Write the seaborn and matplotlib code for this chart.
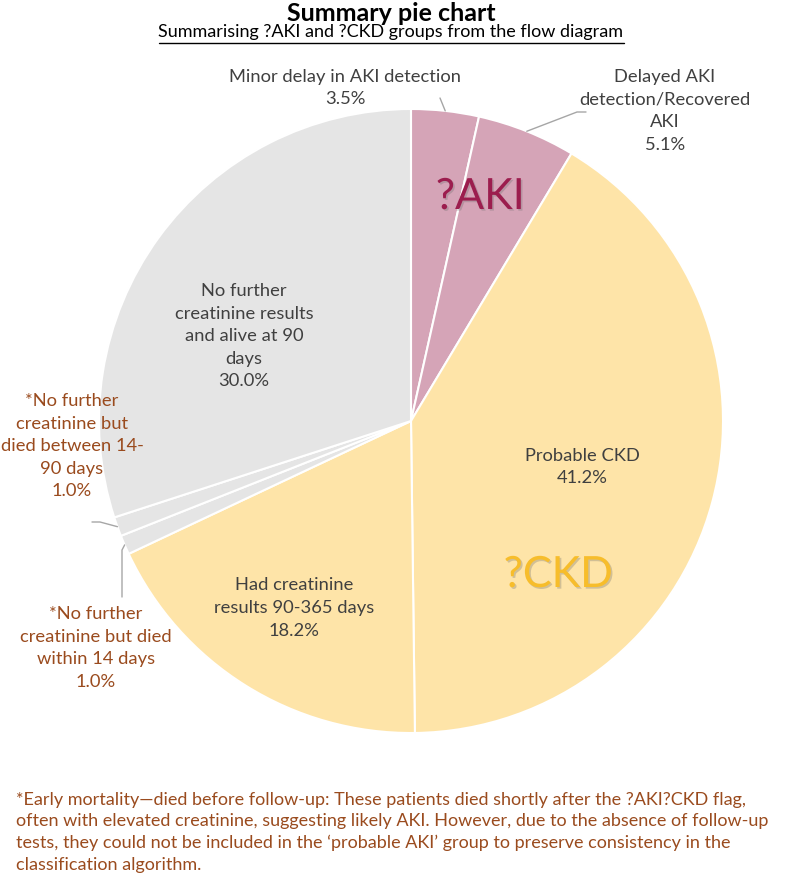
import numpy as np
import matplotlib
matplotlib.use("Agg")
import matplotlib.pyplot as plt
import matplotlib.patheffects as pe
import seaborn as sns

# Slice data (clockwise from 12 o'clock)
labels = [
    "Minor delay in AKI detection",
    "Delayed AKI\ndetection/Recovered\nAKI",
    "Probable CKD",
    "Had creatinine\nresults 90-365 days",
    "*No further\ncreatinine but died\nwithin 14 days",
    "*No further\ncreatinine but\ndied between 14-\n90 days",
    "No further\ncreatinine results\nand alive at 90\ndays",
]
percent = [3.5, 5.1, 41.2, 18.2, 1.0, 1.0, 30.0]
groups = ["AKI", "AKI", "CKD", "CKD", "other", "other", "other"]

title = "Summary pie chart"
subtitle = "Summarising ?AKI and ?CKD groups from the flow diagram"
footnote = ("*Early mortality\u2014died before follow-up: These patients died shortly after the ?AKI?CKD flag,\n"
            "often with elevated creatinine, suggesting likely AKI. However, due to the absence of follow-up\n"
            "tests, they could not be included in the \u2018probable AKI\u2019 group to preserve consistency in the\n"
            "classification algorithm.")

# Styling
sns.set_theme(style="white")
plt.rcParams["font.family"] = ["Lato", "DejaVu Sans"]

fill = {"AKI": "#D5A4B7", "CKD": "#FEE4A8", "other": "#E5E5E5"}
dark_text = "#404040"
brown = "#9A4B1E"
leader = "#A6A6A6"

W, H = 794, 886
CX, CY, R = 411, 421, 312


def px(x, y):
    # pixel coords (y down) -> data coords (y up)
    return x, H - y


fig = plt.figure(figsize=(W / 100, H / 100), dpi=100)
ax = fig.add_axes([0, 0, 1, 1])

wedges, _ = ax.pie(
    percent,
    colors=[fill[g] for g in groups],
    startangle=90,
    counterclock=False,
    center=px(CX, CY),
    radius=R,
    wedgeprops=dict(edgecolor="white", linewidth=1.5),
)
ax.set_xlim(0, W)
ax.set_ylim(0, H)
ax.set_aspect("equal")
ax.axis("off")

# label placement (pixel centre, colour)
label_pos = [
    (345, 88, dark_text),
    (665, 111, dark_text),
    (582, 467, dark_text),
    (294, 608, dark_text),
    (96, 648, brown),
    (72, 446, brown),
    (244, 336, dark_text),
]
for lab, p, (x, y, c) in zip(labels, percent, label_pos):
    ax.text(*px(x, y), f"{lab}\n{p:.1f}%", ha="center", va="center",
            fontsize=13.2, color=c, linespacing=1.5)


def edge_point(w):
    t = np.deg2rad((w.theta1 + w.theta2) / 2)
    return CX + R * np.cos(t), CY - R * np.sin(t)


# leader lines (pixel coords after the wedge edge)
leader_paths = {
    0: [(440, 98)],
    1: [(577, 112), (586, 112)],
    4: [(122, 550), (122, 597)],
    5: [(100, 522), (92, 522)],
}
for i, pts in leader_paths.items():
    path = [edge_point(wedges[i])] + pts
    xs = [q[0] for q in path]
    ys = [H - q[1] for q in path]
    ax.plot(xs, ys, color=leader, lw=1)

# group labels
shadow = [pe.withSimplePatchShadow(offset=(1.2, -1.2), shadow_rgbFace="#6b6b6b", alpha=0.3)]
ax.text(*px(480, 197), "?AKI", ha="center", va="center", fontsize=31,
        color="#9C1D4E", path_effects=shadow)
ax.text(*px(558, 575), "?CKD", ha="center", va="center", fontsize=31,
        color="#F7BD2B", path_effects=shadow)

# titles
ax.text(*px(391, 13), title, ha="center", va="center", fontsize=18,
        fontweight="bold", color="black")
sub = ax.text(*px(391, 32), subtitle, ha="center", va="center", fontsize=13,
              color="black")
fig.canvas.draw()
bb = sub.get_window_extent(fig.canvas.get_renderer())
ax.plot([bb.x0, bb.x1], [H - 43, H - 43], color="black", lw=1)

ax.text(16, H - 792, footnote, ha="left", va="top", fontsize=13.0,
        color=brown, linespacing=1.42)

fig.savefig("out.png", dpi=100)
